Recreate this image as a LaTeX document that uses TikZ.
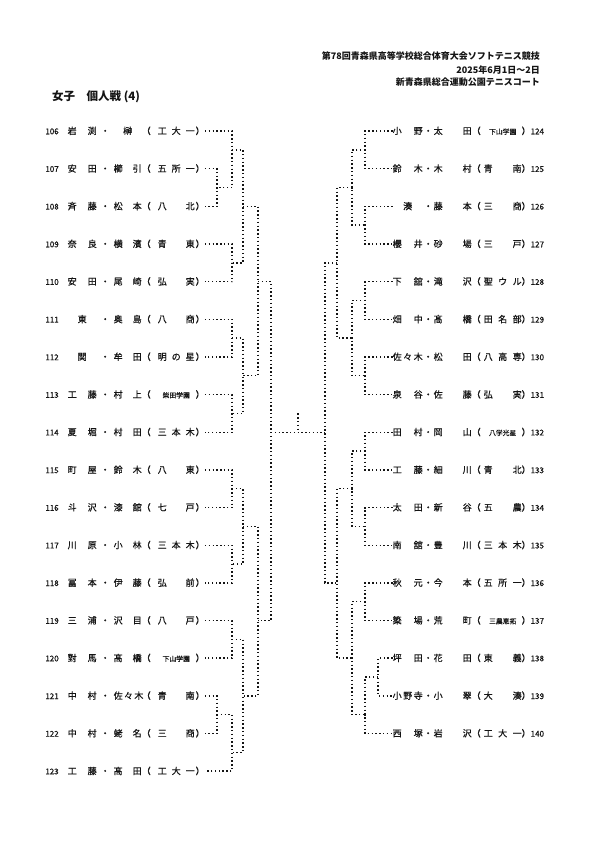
\documentclass[tikz,border=0pt]{standalone}
\usepackage{fontspec}
\setmainfont{Noto Sans CJK JP}
\newfontfamily\medjp[FakeBold=0.5]{Noto Sans CJK JP}
\usepackage{xcolor}
\definecolor{ink}{RGB}{20,20,20}
\usepackage{tikz}
\usetikzlibrary{calc}

\newcommand{\numfont}{\fontsize{8bp}{8bp}\selectfont}
\newcommand{\tinyjp}{\fontsize{6.8bp}{7bp}\selectfont}
% left entry: number, first name, second name, school
\newcommand{\lent}[4]{\makebox[0pt][r]{{\numfont #1}\hspace{9bp}}\makebox[29bp][s]{#2}\makebox[17bp]{・}\makebox[28bp][s]{#3}\makebox[9bp]{（}\hspace{7bp}\makebox[37bp][s]{#4}\hspace{1bp}\makebox[9bp]{）}}
% right entry: first name, second name, school, number
\newcommand{\rent}[4]{\makebox[30bp][s]{#1}\makebox[11bp]{・}\makebox[38bp][s]{#2}\makebox[9bp]{（}\hspace{3bp}\makebox[38bp][s]{#3}\makebox[9bp]{）}{\numfont #4}}

\begin{document}
\begin{tikzpicture}[x=1bp, y=-1bp,
        lname/.style={anchor=west, inner sep=0pt, text height=8bp, text depth=1.5bp, text=ink, font=\medjp\fontsize{9bp}{9bp}\selectfont},
        head/.style={anchor=east, inner sep=0pt, text=ink, font=\bfseries\fontsize{9bp}{9bp}\selectfont},
        bline/.style={ink, line width=1.4bp, dash pattern=on 1.4bp off 2.4bp}
    ]
        \fill[white] (0,0) rectangle (595,842);
        \useasboundingbox (0,0) rectangle (595,842);

        \node[head] (meet) at (540, 56.5) {第78回青森県高等学校総合体育大会ソフトテニス競技};
        \node[head] (date) at (540, 70) {2025年6月1日～2日};
        \node[head] (venue) at (540, 82.5) {新青森県総合運動公園テニスコート};
        \node[head, anchor=west, font=\bfseries\fontsize{11.5bp}{11.5bp}\selectfont] (event) at (52, 97) {女子　個人戦 (4)};

        % left block
        \node[lname] (p106) at (67.5, 131.0) {\lent{106}{岩 渕}{\hfil 榊\hfil}{工 大 一}};
        \node[lname] (p107) at (67.5, 168.7) {\lent{107}{安 田}{櫛 引}{五 所 一}};
        \node[lname] (p108) at (67.5, 206.3) {\lent{108}{斉 藤}{松 本}{八 北}};
        \node[lname] (p109) at (67.5, 244.0) {\lent{109}{奈 良}{横 濱}{青 東}};
        \node[lname] (p110) at (67.5, 281.6) {\lent{110}{安 田}{尾 崎}{弘 実}};
        \node[lname] (p111) at (67.5, 319.3) {\lent{111}{\hfil 東\hfil}{奥 島}{八 商}};
        \node[lname] (p112) at (67.5, 356.9) {\lent{112}{\hfil 関\hfil}{牟 田}{明 の 星}};
        \node[lname] (p113) at (67.5, 394.6) {\lent{113}{工 藤}{村 上}{\hfil{\tinyjp 柴田学園}\hfil}};
        \node[lname] (p114) at (67.5, 432.2) {\lent{114}{夏 堀}{村 田}{三 本 木}};
        \node[lname] (p115) at (67.5, 469.9) {\lent{115}{町 屋}{鈴 木}{八 東}};
        \node[lname] (p116) at (67.5, 507.5) {\lent{116}{斗 沢}{漆 舘}{七 戸}};
        \node[lname] (p117) at (67.5, 545.2) {\lent{117}{川 原}{小 林}{三 本 木}};
        \node[lname] (p118) at (67.5, 582.8) {\lent{118}{冨 本}{伊 藤}{弘 前}};
        \node[lname] (p119) at (67.5, 620.5) {\lent{119}{三 浦}{沢 目}{八 戸}};
        \node[lname] (p120) at (67.5, 658.1) {\lent{120}{對 馬}{髙 橋}{\hfil{\tinyjp 下山学園}\hfil}};
        \node[lname] (p121) at (67.5, 695.8) {\lent{121}{中 村}{佐 々 木}{青 南}};
        \node[lname] (p122) at (67.5, 733.4) {\lent{122}{中 村}{蛯 名}{三 商}};
        \node[lname] (p123) at (67.5, 771.1) {\lent{123}{工 藤}{髙 田}{工 大 一}};

        % right block
        \node[lname] (p124) at (392.5, 131.0) {\rent{小 野}{太 田}{\hfil{\tinyjp 下山学園}\hfil}{124}};
        \node[lname] (p125) at (392.5, 168.7) {\rent{鈴 木}{木 村}{青 南}{125}};
        \node[lname] (p126) at (392.5, 206.3) {\rent{\hfil 湊\hfil}{藤 本}{三 商}{126}};
        \node[lname] (p127) at (392.5, 244.0) {\rent{櫻 井}{砂 場}{三 戸}{127}};
        \node[lname] (p128) at (392.5, 281.6) {\rent{下 舘}{滝 沢}{聖 ウ ル}{128}};
        \node[lname] (p129) at (392.5, 319.3) {\rent{畑 中}{髙 橋}{田 名 部}{129}};
        \node[lname] (p130) at (392.5, 356.9) {\rent{佐 々 木}{松 田}{八 高 専}{130}};
        \node[lname] (p131) at (392.5, 394.6) {\rent{泉 谷}{佐 藤}{弘 実}{131}};
        \node[lname] (p132) at (392.5, 432.2) {\rent{田 村}{岡 山}{\hfil{\tinyjp 八学光星}\hfil}{132}};
        \node[lname] (p133) at (392.5, 469.9) {\rent{工 藤}{細 川}{青 北}{133}};
        \node[lname] (p134) at (392.5, 507.5) {\rent{太 田}{新 谷}{五 農}{134}};
        \node[lname] (p135) at (392.5, 545.2) {\rent{南 舘}{豊 川}{三 本 木}{135}};
        \node[lname] (p136) at (392.5, 582.8) {\rent{秋 元}{今 本}{五 所 一}{136}};
        \node[lname] (p137) at (392.5, 620.5) {\rent{簗 場}{荒 町}{\hfil{\tinyjp 三農恵拓}\hfil}{137}};
        \node[lname] (p138) at (392.5, 658.1) {\rent{坪 田}{花 田}{東 義}{138}};
        \node[lname] (p139) at (392.5, 695.8) {\rent{小 野 寺}{小 翠}{大 湊}{139}};
        \node[lname] (p140) at (392.5, 733.4) {\rent{西 塚}{岩 沢}{工 大 一}{140}};

        % left bracket joints
        \coordinate (a1) at (217, 187.5);
        \coordinate (a2) at (217, 714.6);
        \coordinate (b1) at (232, 149.8);
        \coordinate (b2) at (232, 262.8);
        \coordinate (b3) at (232, 338.1);
        \coordinate (b4) at (232, 413.4);
        \coordinate (b5) at (232, 488.7);
        \coordinate (b6) at (232, 564.0);
        \coordinate (b7) at (232, 639.3);
        \coordinate (b8) at (232, 752.2);
        \coordinate (c1) at (243, 206.3);
        \coordinate (c2) at (243, 375.7);
        \coordinate (c3) at (243, 526.3);
        \coordinate (c4) at (243, 695.8);
        \coordinate (d1) at (258, 281.6);
        \coordinate (d2) at (258, 620.5);
        \coordinate (e1) at (271, 432.2);

        % right bracket joints
        \coordinate (ra1) at (378, 676.9);
        \coordinate (rb1) at (365, 149.8);
        \coordinate (rb2) at (365, 225.1);
        \coordinate (rb3) at (365, 300.4);
        \coordinate (rb4) at (365, 375.7);
        \coordinate (rb5) at (365, 451.0);
        \coordinate (rb6) at (365, 526.3);
        \coordinate (rb7) at (365, 601.6);
        \coordinate (rb8) at (365, 714.6);
        \coordinate (rc1) at (352, 187.5);
        \coordinate (rc2) at (352, 338.1);
        \coordinate (rc3) at (352, 488.7);
        \coordinate (rc4) at (352, 658.1);
        \coordinate (rd1) at (337, 262.8);
        \coordinate (rd2) at (337, 582.8);
        \coordinate (re1) at (325, 432.2);
        \coordinate (cup) at (298, 413.4);

        \draw[bline] (p107.east) -| (a1) |- (p108.east);
        \draw[bline] (p106.east) -| (b1) |- (a1);
        \draw[bline] (p109.east) -| (b2) |- (p110.east);
        \draw[bline] (p111.east) -| (b3) |- (p112.east);
        \draw[bline] (p113.east) -| (b4) |- (p114.east);
        \draw[bline] (p115.east) -| (b5) |- (p116.east);
        \draw[bline] (p117.east) -| (b6) |- (p118.east);
        \draw[bline] (p119.east) -| (b7) |- (p120.east);
        \draw[bline] (p121.east) -| (a2) |- (p122.east);
        \draw[bline] (a2) -| (b8) |- (p123.east);
        \draw[bline] (b1) -| (c1) |- (b2);
        \draw[bline] (b3) -| (c2) |- (b4);
        \draw[bline] (b5) -| (c3) |- (b6);
        \draw[bline] (b7) -| (c4) |- (b8);
        \draw[bline] (c1) -| (d1) |- (c2);
        \draw[bline] (c3) -| (d2) |- (c4);
        \draw[bline] (d1) -| (e1) |- (d2);

        \draw[bline] (p124.west) -| (rb1) |- (p125.west);
        \draw[bline] (p126.west) -| (rb2) |- (p127.west);
        \draw[bline] (p128.west) -| (rb3) |- (p129.west);
        \draw[bline] (p130.west) -| (rb4) |- (p131.west);
        \draw[bline] (p132.west) -| (rb5) |- (p133.west);
        \draw[bline] (p134.west) -| (rb6) |- (p135.west);
        \draw[bline] (p136.west) -| (rb7) |- (p137.west);
        \draw[bline] (p138.west) -| (ra1) |- (p139.west);
        \draw[bline] (ra1) -| (rb8) |- (p140.west);
        \draw[bline] (rb1) -| (rc1) |- (rb2);
        \draw[bline] (rb3) -| (rc2) |- (rb4);
        \draw[bline] (rb5) -| (rc3) |- (rb6);
        \draw[bline] (rb7) -| (rc4) |- (rb8);
        \draw[bline] (rc1) -| (rd1) |- (rc2);
        \draw[bline] (rc3) -| (rd2) |- (rc4);
        \draw[bline] (rd1) -| (re1) |- (rd2);

        \draw[bline] (e1) -- (re1);
        \draw[bline] (cup) -- (cup |- e1);
\end{tikzpicture}
\end{document}
